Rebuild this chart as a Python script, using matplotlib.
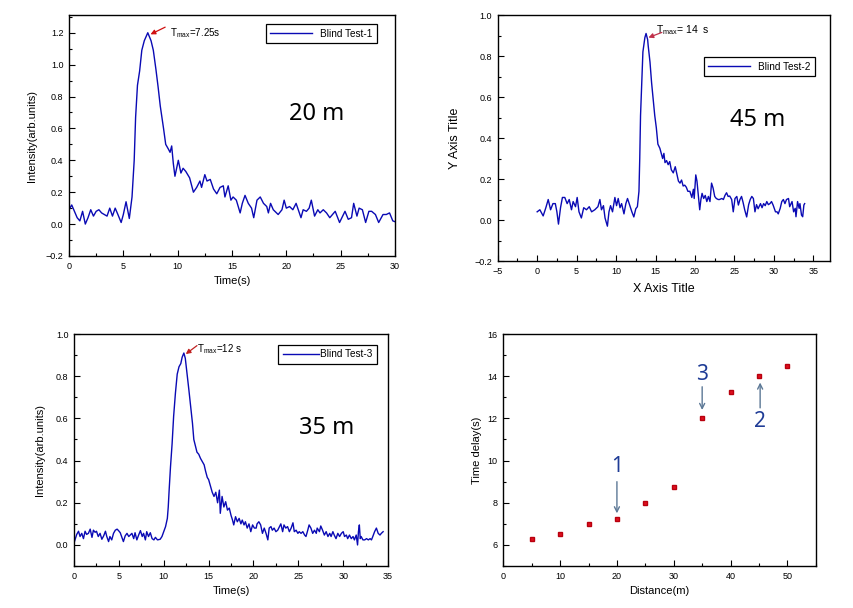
import matplotlib
matplotlib.use("Agg")
import matplotlib.pyplot as plt
from matplotlib.ticker import MultipleLocator

plt.rcParams['font.family'] = ['Liberation Sans', 'DejaVu Sans']

# ---------------- data ----------------
t1 = [0, 0.25, 0.5, 0.75, 1.0, 1.25, 1.5, 1.75, 2.0, 2.25, 2.5, 2.75, 3.0, 3.25, 3.5, 3.75, 4.0, 4.25, 4.5, 4.8,
      5.0, 5.25, 5.55, 5.8, 6.0, 6.13, 6.3, 6.5, 6.7, 6.93, 7.25, 7.55, 7.76, 8.0, 8.2, 8.4, 8.7, 8.9, 9.15, 9.3,
      9.45, 9.6, 9.75, 10.06, 10.3, 10.5, 10.75, 11.1, 11.45, 11.75, 12.05, 12.2, 12.5, 12.7, 13.0, 13.3, 13.6,
      13.9, 14.2, 14.35, 14.65, 14.9, 15.1, 15.4, 15.75, 15.95, 16.2, 16.5, 16.8, 17.0, 17.3, 17.6, 17.9, 18.2,
      18.35, 18.55, 18.8, 19.25, 19.6, 19.8, 20.0, 20.3, 20.6, 20.9, 21.1, 21.35, 21.55, 21.85, 22.1, 22.3, 22.6,
      22.9, 23.1, 23.4, 23.7, 24.0, 24.5, 24.9, 25.4, 25.7, 26.0, 26.2, 26.5, 26.7, 27.0, 27.3, 27.6, 27.85, 28.2,
      28.5, 28.9, 29.2, 29.5, 29.8, 30.0]
y1 = [0.09, 0.12, 0.08, 0.04, 0.02, 0.08, 0.00, 0.04, 0.09, 0.05, 0.08, 0.09, 0.07, 0.06, 0.05, 0.10, 0.05, 0.10,
      0.06, 0.01, 0.06, 0.14, 0.035, 0.17, 0.40, 0.67, 0.87, 0.96, 1.09, 1.15, 1.20, 1.15, 1.09, 0.97, 0.86, 0.74,
      0.60, 0.50, 0.47, 0.45, 0.49, 0.38, 0.30, 0.40, 0.32, 0.35, 0.33, 0.29, 0.20, 0.23, 0.27, 0.23, 0.31, 0.27,
      0.28, 0.22, 0.19, 0.23, 0.24, 0.17, 0.24, 0.15, 0.17, 0.15, 0.07, 0.13, 0.18, 0.13, 0.10, 0.04, 0.15, 0.17,
      0.13, 0.11, 0.07, 0.13, 0.09, 0.06, 0.09, 0.15, 0.10, 0.11, 0.09, 0.13, 0.09, 0.04, 0.09, 0.08, 0.10, 0.15,
      0.05, 0.09, 0.07, 0.09, 0.07, 0.04, 0.08, 0.01, 0.08, 0.03, 0.04, 0.13, 0.05, 0.10, 0.09, 0.01, 0.08, 0.08,
      0.06, 0.01, 0.06, 0.06, 0.07, 0.02, 0.015]

t2 = [0, 0.34, 0.76, 1.1, 1.4, 1.7, 2.0, 2.3, 2.5, 2.7, 2.96, 3.2, 3.5, 3.8, 4.06, 4.35, 4.56, 4.86, 5.07, 5.3, 5.6,
      5.9, 6.25, 6.6, 6.9, 7.3, 7.7, 7.95, 8.15, 8.4, 8.6, 8.9, 9.1, 9.3, 9.55, 9.85, 10.06, 10.27, 10.5, 10.7, 11.0,
      11.24, 11.45, 11.75, 12.0, 12.25, 12.5, 12.7, 12.9, 13.0, 13.1, 13.3, 13.4, 13.65, 13.8, 14.0, 14.07, 14.3,
      14.5, 14.7, 14.9, 15.1, 15.3, 15.55, 15.9, 16.06, 16.2, 16.4, 16.6, 16.8, 17.0, 17.25, 17.5, 17.9, 18.1, 18.3,
      18.5, 18.7, 18.9, 19.1, 19.35, 19.6, 19.8, 19.9, 20.1, 20.25, 20.4, 20.6, 20.75, 20.9, 21.1, 21.3, 21.5, 21.7,
      21.9, 22.1, 22.3, 22.5, 22.7, 22.95, 23.1, 23.4, 23.6, 23.8, 24.0, 24.2, 24.4, 24.65, 24.85, 25.07, 25.3,
      25.5, 25.7, 25.9, 26.1, 26.3, 26.55, 26.8, 27.0, 27.2, 27.4, 27.6, 27.8, 28.0, 28.3, 28.5, 28.7, 28.9, 29.1,
      29.3, 29.5, 29.7, 29.9, 30.2, 30.4, 30.55, 30.8, 31.0, 31.2, 31.4, 31.6, 31.85, 32.0, 32.3, 32.5, 32.7, 32.8,
      33.0, 33.2, 33.3, 33.5, 33.65, 33.8, 33.9]
y2 = [0.04, 0.05, 0.02, 0.06, 0.10, 0.05, 0.08, 0.08, 0.04, -0.02, 0.06, 0.11, 0.11, 0.08, 0.10, 0.05, 0.09, 0.065,
      0.11, 0.04, 0.01, 0.06, 0.05, 0.065, 0.04, 0.05, 0.065, 0.10, 0.05, 0.07, 0.01, -0.03, 0.04, 0.07, 0.04, 0.11,
      0.07, 0.105, 0.06, 0.08, 0.03, 0.08, 0.105, 0.07, 0.04, 0.015, 0.055, 0.065, 0.14, 0.30, 0.51, 0.71, 0.82,
      0.89, 0.91, 0.88, 0.85, 0.77, 0.67, 0.59, 0.51, 0.45, 0.37, 0.35, 0.30, 0.325, 0.28, 0.29, 0.27, 0.285, 0.245,
      0.23, 0.26, 0.19, 0.18, 0.195, 0.166, 0.17, 0.16, 0.14, 0.14, 0.11, 0.15, 0.105, 0.22, 0.19, 0.13, 0.05, 0.10,
      0.13, 0.105, 0.12, 0.09, 0.115, 0.09, 0.18, 0.155, 0.115, 0.105, 0.10, 0.10, 0.105, 0.10, 0.12, 0.133, 0.115,
      0.117, 0.10, 0.04, 0.105, 0.115, 0.073, 0.10, 0.115, 0.085, 0.05, 0.015, 0.075, 0.10, 0.115, 0.105, 0.04,
      0.075, 0.055, 0.08, 0.06, 0.08, 0.07, 0.09, 0.075, 0.08, 0.09, 0.073, 0.04, 0.04, 0.03, 0.057, 0.09, 0.10,
      0.08, 0.10, 0.105, 0.065, 0.09, 0.04, 0.057, 0.016, 0.09, 0.057, 0.08, 0.024, 0.016, 0.073, 0.08]

t3 = [0, 0.3, 0.5, 0.67, 0.86, 1.05, 1.23, 1.4, 1.6, 1.8, 2.0, 2.16, 2.35, 2.5, 2.7, 2.9, 3.1, 3.3, 3.5, 3.65, 3.85,
      4.0, 4.2, 4.4, 4.6, 4.8, 4.96, 5.15, 5.3, 5.5, 5.7, 5.9, 6.1, 6.27, 6.45, 6.65, 6.8, 7.0, 7.2, 7.4, 7.6, 7.75,
      7.95, 8.1, 8.3, 8.5, 8.7, 8.9, 9.07, 9.3, 9.6, 9.8, 10.0, 10.2, 10.4, 10.5, 10.6, 10.75, 10.93, 11.1, 11.3,
      11.5, 11.7, 11.9, 12.05, 12.24, 12.4, 12.6, 12.8, 13.0, 13.2, 13.35, 13.55, 13.7, 13.9, 14.1, 14.3, 14.5,
      14.66, 14.85, 15.0, 15.2, 15.4, 15.6, 15.8, 16.0, 16.2, 16.3, 16.5, 16.7, 16.9, 17.1, 17.3, 17.5, 17.65, 17.8,
      18.0, 18.2, 18.4, 18.6, 18.75, 18.95, 19.1, 19.3, 19.5, 19.7, 19.9, 20.1, 20.3, 20.4, 20.6, 20.8, 21.0, 21.2,
      21.4, 21.6, 21.75, 21.95, 22.1, 22.3, 22.5, 22.7, 22.9, 23.05, 23.25, 23.4, 23.6, 23.8, 24.0, 24.2, 24.4,
      24.55, 24.75, 24.95, 25.1, 25.3, 25.5, 25.7, 25.85, 26.05, 26.2, 26.4, 26.6, 26.8, 27.0, 27.1, 27.35, 27.5,
      27.7, 27.9, 28.1, 28.3, 28.5, 28.65, 28.85, 29.0, 29.2, 29.4, 29.6, 29.8, 30.0, 30.15, 30.35, 30.5, 30.7,
      30.9, 31.1, 31.25, 31.45, 31.6, 31.7, 31.8, 31.9, 32.0, 32.2, 32.4, 32.6, 32.8, 33.0, 33.15, 33.3, 33.5, 33.7,
      33.9, 34.1, 34.25, 34.45]
y3 = [0.01, 0.05, 0.065, 0.04, 0.055, 0.03, 0.065, 0.05, 0.055, 0.075, 0.036, 0.07, 0.06, 0.065, 0.04, 0.055, 0.027,
      0.043, 0.065, 0.04, 0.016, 0.04, 0.024, 0.055, 0.07, 0.075, 0.068, 0.058, 0.04, 0.016, 0.043, 0.055, 0.04,
      0.047, 0.055, 0.03, 0.058, 0.024, 0.047, 0.068, 0.04, 0.055, 0.024, 0.063, 0.04, 0.058, 0.03, 0.024, 0.036,
      0.024, 0.027, 0.04, 0.063, 0.087, 0.126, 0.18, 0.26, 0.37, 0.48, 0.61, 0.72, 0.81, 0.845, 0.86, 0.89, 0.91,
      0.885, 0.81, 0.735, 0.655, 0.577, 0.50, 0.466, 0.44, 0.43, 0.41, 0.395, 0.38, 0.35, 0.32, 0.31, 0.28, 0.25,
      0.23, 0.25, 0.20, 0.26, 0.15, 0.23, 0.18, 0.205, 0.165, 0.175, 0.14, 0.12, 0.095, 0.134, 0.11, 0.126, 0.10,
      0.118, 0.095, 0.11, 0.08, 0.10, 0.063, 0.095, 0.08, 0.08, 0.10, 0.11, 0.095, 0.055, 0.08, 0.055, 0.024, 0.08,
      0.087, 0.07, 0.08, 0.063, 0.07, 0.087, 0.10, 0.063, 0.095, 0.08, 0.087, 0.063, 0.08, 0.105, 0.063, 0.07,
      0.055, 0.063, 0.055, 0.063, 0.047, 0.04, 0.07, 0.095, 0.08, 0.055, 0.07, 0.055, 0.08, 0.063, 0.09, 0.07,
      0.047, 0.063, 0.04, 0.055, 0.04, 0.063, 0.047, 0.03, 0.055, 0.04, 0.055, 0.063, 0.04, 0.047, 0.03, 0.047,
      0.03, 0.04, 0.024, 0.047, 0.0, 0.063, 0.095, 0.03, 0.04, 0.024, 0.024, 0.03, 0.024, 0.03, 0.024, 0.04, 0.063,
      0.08, 0.055, 0.047, 0.055, 0.063]

distance = [5, 10, 15, 20, 25, 30, 35, 40, 45, 50]
delay = [6.3, 6.5, 7.0, 7.25, 8.0, 8.75, 12.0, 13.25, 14.0, 14.5]

legend_labels = ["Blind Test-1", "Blind Test-2", "Blind Test-3"]
range_labels = ["20 m", "45 m", "35 m"]
tmax_labels = [r"T$_{\mathregular{max}}$=7.25s", r"T$_{\mathregular{max}}$= 14  s", r"T$_{\mathregular{max}}$=12 s"]
peaks = [(7.5, 1.19), (14.1, 0.89), (12.45, 0.905)]

# ---------------- style ----------------
LINE = '#0a0ab4'
TICKFS = 6.5
LABFS = 8

fig = plt.figure(figsize=(8.54, 6.08), dpi=100)


def style(ax, xmaj, xmin, ymaj, ymin):
    ax.xaxis.set_major_locator(MultipleLocator(xmaj))
    ax.xaxis.set_minor_locator(MultipleLocator(xmin))
    ax.yaxis.set_major_locator(MultipleLocator(ymaj))
    ax.yaxis.set_minor_locator(MultipleLocator(ymin))
    ax.tick_params(which='both', direction='in', top=False, right=False, labelsize=TICKFS, width=0.8)
    ax.tick_params(which='major', length=4, pad=4)
    ax.tick_params(which='minor', length=2.5)
    for s in ax.spines.values():
        s.set_linewidth(1.0)


def legend(ax, label, anchor, hl=4.2, tp=0.8):
    leg = ax.legend([ax.lines[0]], [label], loc='upper right', bbox_to_anchor=anchor, fontsize=7.2,
                    frameon=True, fancybox=False, edgecolor='black', framealpha=1, handlelength=hl,
                    borderpad=0.45, handletextpad=tp, borderaxespad=0)
    leg.get_frame().set_linewidth(0.9)


def tmax(ax, label, peak, tail, textpos, color, fs=7):
    ax.text(textpos[0], textpos[1], label, fontsize=fs, va='center', ha='left')
    ax.annotate("", xy=peak, xytext=tail,
                arrowprops=dict(arrowstyle='-|>', color=color, lw=0.9, mutation_scale=7, shrinkA=0, shrinkB=0))


# Panel 1
ax1 = fig.add_axes([0.0808, 0.579, 0.3817, 0.396])
ax1.plot(t1, y1, color=LINE, lw=1.0)
ax1.set_xlim(0, 30)
ax1.set_ylim(-0.2, 1.31)
style(ax1, 5, 2.5, 0.2, 0.1)
ax1.set_xlabel("Time(s)", fontsize=LABFS, labelpad=4)
ax1.set_ylabel("Intensity(arb.units)", fontsize=LABFS, labelpad=6)
legend(ax1, legend_labels[0], (0.945, 0.963))
ax1.text(22.8, 0.69, range_labels[0], fontsize=17, family='Noto Sans', ha='center', va='center')
tmax(ax1, tmax_labels[0], peaks[0], (8.85, 1.235), (9.3, 1.2), '#d01010')

# Panel 2
ax2 = fig.add_axes([0.5828, 0.5707, 0.389, 0.4046])
ax2.plot(t2, y2, color=LINE, lw=1.0)
ax2.set_xlim(-5, 37.1)
ax2.set_ylim(-0.2, 1.0)
style(ax2, 5, 2.5, 0.2, 0.1)
ax2.set_xlabel("X Axis Title", fontsize=9, labelpad=5)
ax2.set_ylabel("Y Axis Title", fontsize=9, labelpad=10)
legend(ax2, legend_labels[1], (0.955, 0.829))
ax2.text(28.0, 0.49, range_labels[1], fontsize=17, family='Noto Sans', ha='center', va='center')
tmax(ax2, tmax_labels[1], peaks[1], (15.8, 0.915), (15.1, 0.925), '#c0304a', fs=7.5)

# Panel 3
ax3 = fig.add_axes([0.0867, 0.069, 0.3677, 0.3816])
ax3.plot(t3, y3, color=LINE, lw=1.0)
ax3.set_xlim(0, 35)
ax3.set_ylim(-0.1, 1.0)
style(ax3, 5, 2.5, 0.2, 0.1)
ax3.set_xlabel("Time(s)", fontsize=LABFS, labelpad=4)
ax3.set_ylabel("Intensity(arb.units)", fontsize=LABFS, labelpad=8)
legend(ax3, legend_labels[2], (0.965, 0.953), hl=3.6, tp=0.15)
ax3.text(28.1, 0.555, range_labels[2], fontsize=17, family='Noto Sans', ha='center', va='center')
tmax(ax3, tmax_labels[2], peaks[2], (13.7, 0.945), (13.75, 0.93), '#c02020')

# Panel 4
ax4 = fig.add_axes([0.5893, 0.069, 0.366, 0.3816])
ax4.plot(distance, delay, linestyle='none', marker='s', markersize=3.4, color='#e0101e', markeredgecolor='#b8000e')
ax4.set_xlim(0, 55)
ax4.set_ylim(5, 16)
style(ax4, 10, 5, 2, 1)
ax4.set_xlabel("Distance(m)", fontsize=LABFS, labelpad=4)
ax4.set_ylabel("Time delay(s)", fontsize=LABFS, labelpad=4)

NUMC = '#1f3c96'
ARC = '#5c7896'
arrows = [("1", 20, 9.7, 9.0, 7.5), ("3", 35, 14.1, 13.5, 12.4), ("2", 45.2, 11.85, 12.5, 13.7)]
for lab, x, ty, y0, y1_ in arrows:
    ax4.text(x, ty, lab, fontsize=15, family='Noto Sans', color=NUMC, ha='center', va='center')
    ax4.annotate("", xy=(x, y1_), xytext=(x, y0),
                 arrowprops=dict(arrowstyle='->', color=ARC, lw=1.0, mutation_scale=9, shrinkA=0, shrinkB=0))

fig.savefig("out.png", dpi=100)
